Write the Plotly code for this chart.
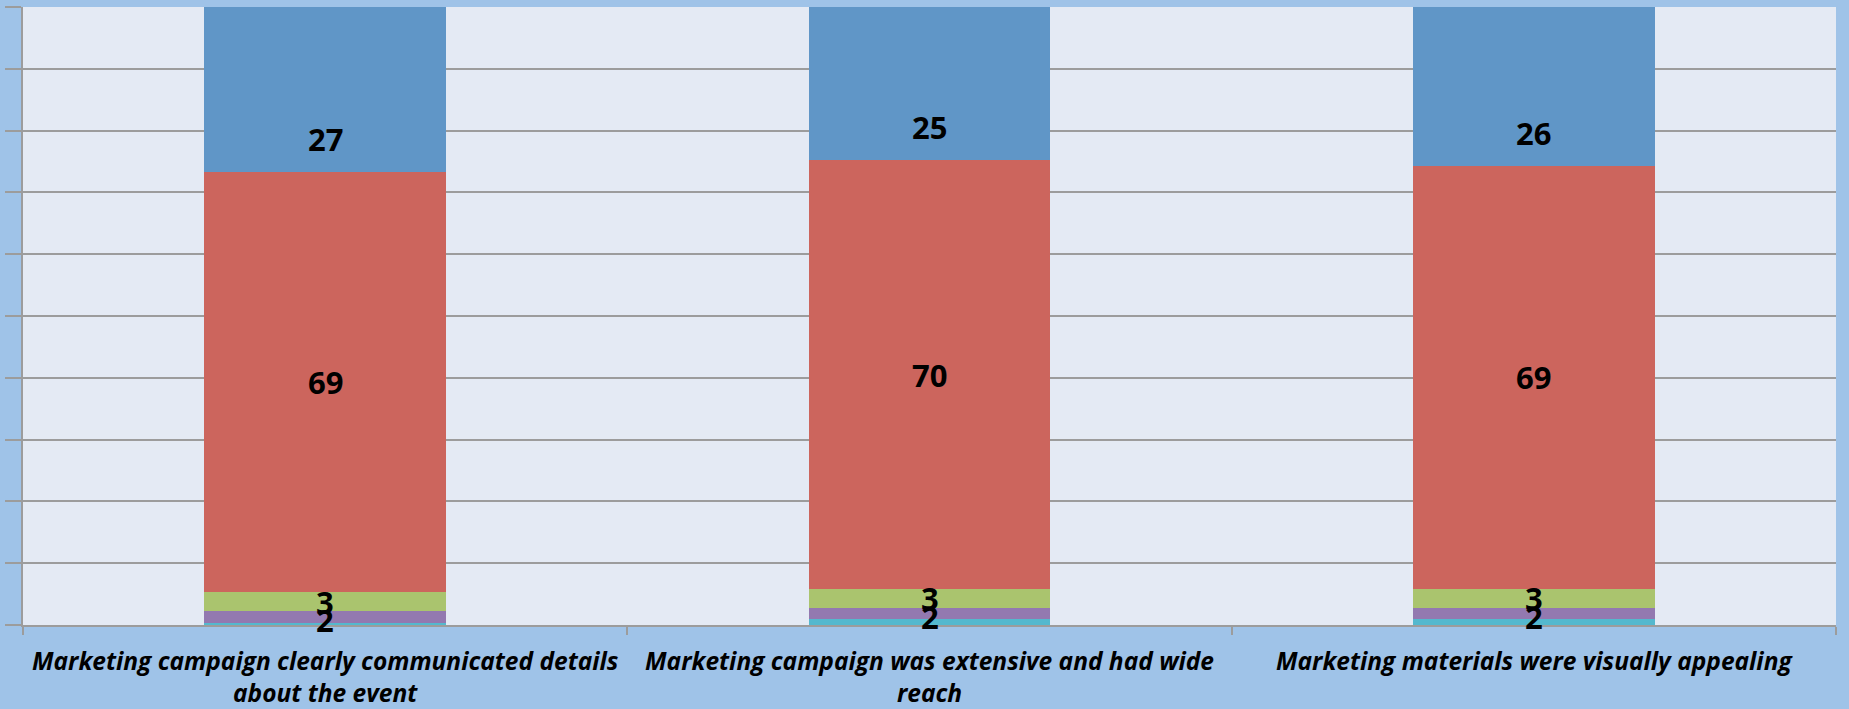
import plotly.graph_objs as go

categories = [
    "Marketing campaign clearly communicated details<br>about the event",
    "Marketing campaign was extensive and had wide<br>reach",
    "Marketing materials were visually appealing",
]

# segment heights (bottom to top)
teal = [0.3, 0.9, 0.9]
purple = [1.9, 1.9, 1.9]
green = [3.1, 3.0, 3.0]
red = [68.0, 69.4, 68.5]
blue = [27, 25, 26]

# labels printed on the bars
purple_labels = ["2", "2", "2"]
green_labels = ["3", "3", "3"]
red_labels = ["69", "70", "69"]
blue_labels = ["27", "25", "26"]

series = [
    ("teal", teal, "#54B8CE", None),
    ("purple", purple, "#9379B0", purple_labels),
    ("green", green, "#AAC46E", green_labels),
    ("red", red, "#CC655D", red_labels),
    ("blue", blue, "#6096C7", blue_labels),
]

labelFont = dict(family = "Open Sans", size = 31, color = "black")

traces = []
annotations = []
base = [0.0, 0.0, 0.0]
for name, vals, col, labels in series:
    traces.append(go.Bar(x = categories, y = vals, name = name, width = 0.4,
                         marker = dict(color = col, line = dict(width = 0))))
    if labels is not None:
        for i, cat in enumerate(categories):
            if name == "blue":
                # Excel put these just above the bottom of the clipped segment
                annotations.append(dict(x = cat, y = base[i], text = "<b>%s</b>" % labels[i],
                                        showarrow = False, yanchor = "middle", yshift = 33,
                                        font = labelFont))
            else:
                shift = -3 if name == "purple" else 0
                annotations.append(dict(x = cat, y = base[i] + vals[i] / 2.0,
                                        text = "<b>%s</b>" % labels[i], showarrow = False,
                                        yanchor = "middle", yshift = shift, font = labelFont))
    base = [b + v for b, v in zip(base, vals)]

layout = go.Layout(
    barmode = "stack",
    showlegend = False,
    width = 1849, height = 709,
    margin = dict(l = 23, r = 13, t = 7, b = 84),
    paper_bgcolor = "#9FC3E8",
    plot_bgcolor = "#E4EAF4",
    xaxis = dict(
        automargin = False,
        showline = True, linecolor = "#9C9C9C", linewidth = 2,
        ticks = "outside", tickson = "boundaries", ticklen = 8, tickcolor = "#9C9C9C", tickwidth = 2,
        tickfont = dict(family = "Open Sans", size = 24.5, color = "black", style = "italic", weight = "bold"),
        ticklabelstandoff = 14,
        showgrid = False,
    ),
    yaxis = dict(
        automargin = False,
        range = [0, 100], dtick = 10,
        showticklabels = False,
        showline = True, linecolor = "#9C9C9C", linewidth = 2,
        ticks = "outside", ticklen = 16, tickcolor = "#9C9C9C", tickwidth = 2,
        showgrid = True, gridcolor = "#9C9C9C", gridwidth = 1.5,
        zeroline = False,
    ),
    annotations = annotations,
)

fig = go.Figure(data = traces, layout = layout)
# page body has a default 8px margin; drop it so the figure fills the window
fig.write_html("out.html", config = {"displayModeBar": False},
               post_script = "document.body.style.margin = '0';")
